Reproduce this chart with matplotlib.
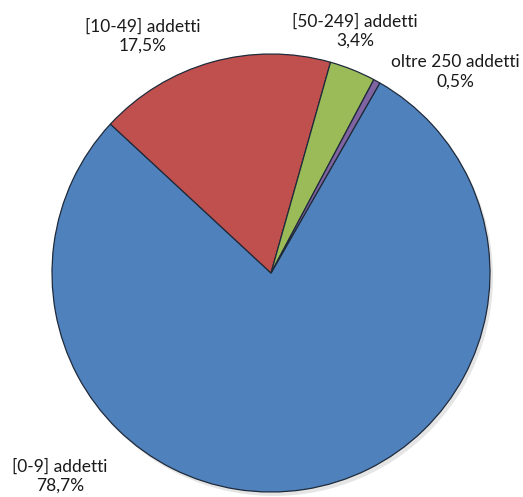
import matplotlib.pyplot as plt

categories = ["[0-9] addetti", "[10-49] addetti", "[50-249] addetti", "oltre 250 addetti"]
values = [78.7, 17.5, 3.4, 0.5]
colors = ["#4F81BD", "#C0504D", "#9BBB59", "#8064A2"]

W, H = 523, 497
fig = plt.figure(figsize=(W / 100, H / 100), dpi=100)
ax = fig.add_axes([0, 0, 1, 1])

cx, cy, r = 271, H - 273, 219

# leggera ombra come in Excel
shadow = plt.Circle((cx + 3, cy - 4), r, color="#000000", alpha=0.10, lw=0, zorder=0)
ax.add_patch(shadow)

ax.pie(values, colors=colors, startangle=60.2, counterclock=False,
       center=(cx, cy), radius=r, frame=True,
       wedgeprops=dict(edgecolor="#1f2a3a", linewidth=0.9))
ax.set_xlim(0, W)
ax.set_ylim(0, H)
ax.set_aspect("equal")
ax.axis("off")

# posizioni etichette (pixel, dall'alto)
label_pos = [(60, 465), (143, 25), (355, 20), (455, 61)]
for name, v, (lx, ly) in zip(categories, values, label_pos):
    txt = name + "\n" + f"{v:.1f}".replace(".", ",") + "%"
    ax.text(lx, H - ly - 11, txt, ha="center", va="center", fontsize=12.5,
            family="Lato", color="#1a1a1a", linespacing=1.25)

fig.savefig("out.png", dpi=100)
